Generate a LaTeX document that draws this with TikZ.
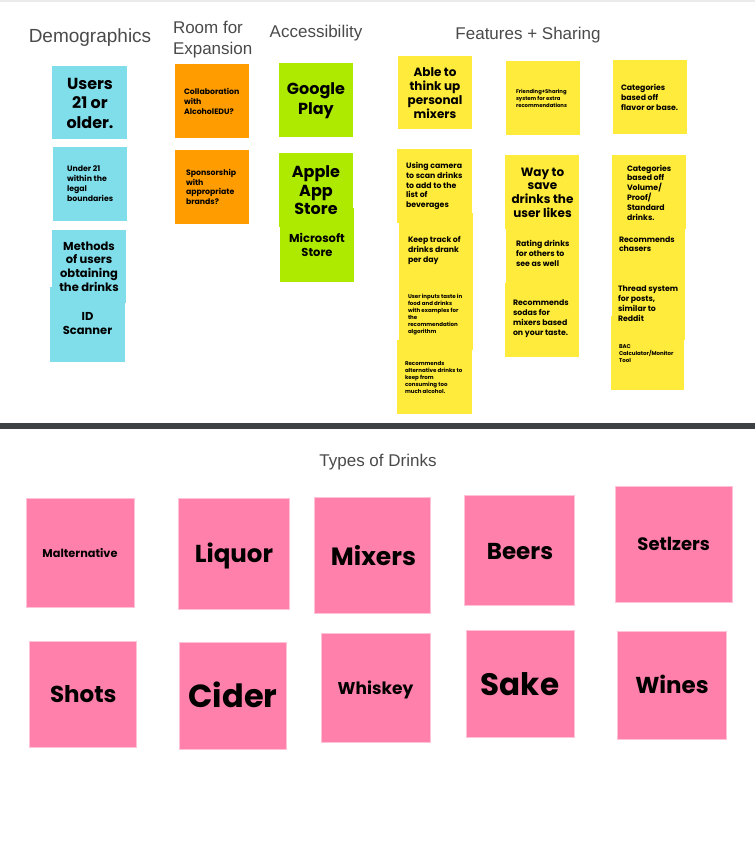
\documentclass[tikz,border=0pt]{standalone}
\usepackage{fontspec}
\setmainfont{Liberation Sans}
\newfontfamily\notefont{Poppins}
\newfontfamily\titlefont{Liberation Sans}
\definecolor{blueN}{HTML}{80DEEA}
\definecolor{orangeN}{HTML}{FF9D00}
\definecolor{greenN}{HTML}{AEEA00}
\definecolor{yellowN}{HTML}{FFEB3B}
\definecolor{pinkN}{HTML}{FF80AB}
\definecolor{pinkEdge}{HTML}{FFC2D6}
\definecolor{titleGray}{HTML}{4A4A4A}
\definecolor{barGray}{HTML}{3E4144}
\tikzset{
  sticky/.style={rectangle, inner sep=0pt, outer sep=0pt, anchor=north west, draw=none},
  bluen/.style={sticky, fill=blueN},
  orangen/.style={sticky, fill=orangeN},
  greenn/.style={sticky, fill=greenN},
  yellown/.style={sticky, fill=yellowN},
  pinkn/.style={sticky, fill=pinkN, draw=pinkEdge, line width=0.6pt},
  nt/.style 2 args={inner sep=0pt, outer sep=0pt, text=black, font=\notefont\bfseries\fontsize{#1}{#2}\selectfont},
  ttl/.style={inner sep=0pt, outer sep=0pt, text=titleGray, font=\titlefont\fontsize{17}{21}\selectfont},
  pk/.style={inner sep=0pt, outer sep=0pt, text=black, anchor=base, font=\notefont\bfseries\fontsize{#1}{#1}\selectfont},
}
\begin{document}
\begin{tikzpicture}[x=1pt,y=-1pt]
\useasboundingbox (0,0) rectangle (755,852);
\fill[white] (0,0) rectangle (755,852);
\fill[black!8] (0,0) rectangle (755,2);
% separator bar
\node[sticky, fill=barGray, minimum width=755pt, minimum height=6pt] (bar) at (0,423) {};

% ---------- titles ----------
\node[ttl, font=\titlefont\fontsize{19}{21}\selectfont] (tDemo) at (90,38) {Demographics};
\node[ttl, anchor=west, align=left] (tRoom) at (173,39.5) {Room for\\Expansion};
\node[ttl] (tAcc) at (316,33) {Accessibility};
\node[ttl] (tFeat) at (528,35) {Features + Sharing};
\node[ttl] (tTypes) at (378,462) {Types of Drinks};

% ---------- boxes: demographics ----------
\node[bluen, minimum width=75pt, minimum height=73pt] (bUsers) at (52,66) {};
\node[bluen, minimum width=74pt, minimum height=74pt] (bUnder) at (53,147) {};
\node[bluen, minimum width=75pt, minimum height=75pt] (bID) at (50,287) {};
\node[bluen, minimum width=74pt, minimum height=73pt] (bMeth) at (52,230) {};
% room for expansion
\node[orangen, minimum width=74pt, minimum height=74pt] (bCollab) at (175,64) {};
\node[orangen, minimum width=74pt, minimum height=74pt] (bSpons) at (175,150) {};
% accessibility
\node[greenn, minimum width=74pt, minimum height=74pt] (bGoogle) at (279,63) {};
\node[greenn, minimum width=74pt, minimum height=74pt] (bMS) at (280,208) {};
\node[greenn, minimum width=74pt, minimum height=74pt] (bApple) at (279,153) {};
% features: left column
\node[yellown, minimum width=74pt, minimum height=73pt] (bAble) at (398,56) {};
\node[yellown, minimum width=75pt, minimum height=74pt] (bCam) at (397,149) {};
\node[yellown, minimum width=74pt, minimum height=74pt] (bKeep) at (399,213) {};
\node[yellown, minimum width=74pt, minimum height=70pt] (bUserIn) at (399,280) {};
\node[yellown, minimum width=75pt, minimum height=74pt] (bAlt) at (397,340) {};
% features: middle column
\node[yellown, minimum width=74pt, minimum height=74pt] (bFriend) at (506,61) {};
\node[yellown, minimum width=74pt, minimum height=74pt] (bSave) at (505,155) {};
\node[yellown, minimum width=73pt, minimum height=74pt] (bRate) at (506,216) {};
\node[yellown, minimum width=74pt, minimum height=74pt] (bSodas) at (505,283) {};
% features: right column
\node[yellown, minimum width=74pt, minimum height=74pt] (bCatF) at (613,60) {};
\node[yellown, minimum width=74pt, minimum height=74pt] (bCatV) at (612,155) {};
\node[yellown, minimum width=73pt, minimum height=70pt] (bChase) at (612,215) {};
\node[yellown, minimum width=73pt, minimum height=73pt] (bThread) at (612,267) {};
\node[yellown, minimum width=73pt, minimum height=74pt] (bBAC) at (611,316) {};
% types of drinks
\node[pinkn, minimum width=108pt, minimum height=109pt] (bMalt) at (26,498) {};
\node[pinkn, minimum width=111pt, minimum height=111pt] (bLiq) at (178,498) {};
\node[pinkn, minimum width=116pt, minimum height=116pt] (bMix) at (314,497) {};
\node[pinkn, minimum width=110pt, minimum height=110pt] (bBeer) at (464,495) {};
\node[pinkn, minimum width=117pt, minimum height=116pt] (bSelt) at (615,486) {};
\node[pinkn, minimum width=107pt, minimum height=106pt] (bShots) at (29,641) {};
\node[pinkn, minimum width=107pt, minimum height=107pt] (bCider) at (179,642) {};
\node[pinkn, minimum width=109pt, minimum height=109pt] (bWhis) at (321,633) {};
\node[pinkn, minimum width=108pt, minimum height=107pt] (bSake) at (466,630) {};
\node[pinkn, minimum width=109pt, minimum height=108pt] (bWine) at (617,631) {};

% ---------- texts ----------
\node[nt={16}{19.5}, align=center] (xUsers) at (90,103) {Users\\21 or\\older.};
\node[nt={7.8}{9.8}, align=left, anchor=west] (xUnder) at (67,183.5) {Under 21\\within the\\legal\\boundaries};
\node[nt={11.5}{13.7}, align=center] (xMeth) at (89,266.5) {Methods\\of users\\obtaining\\the drinks};
\node[nt={11.5}{14}, align=center] (xID) at (87.5,324) {ID\\Scanner};

\node[nt={7.8}{10}, align=left, anchor=west] (xCollab) at (184,101) {Collaboration\\with\\AlcoholEDU?};
\node[nt={7.8}{9.8}, align=left, anchor=west] (xSpons) at (186,187) {Sponsorship\\with\\appropriate\\brands?};

\node[nt={16}{19.5}, align=center] (xGoogle) at (316,100.5) {Google\\Play};
\node[nt={16}{18.5}, align=center] (xApple) at (316,190.5) {Apple\\App\\Store};
\node[nt={11.5}{14}, align=center] (xMS) at (317,245) {Microsoft\\Store};

\node[nt={12}{14}, align=center] (xAble) at (435,93) {Able to\\think up\\personal\\mixers};
\node[nt={7.8}{9.9}, align=left, anchor=west] (xCam) at (406,186) {Using camera\\to scan drinks\\to add to the\\list of\\beverages};
\node[nt={7.8}{9.8}, align=left, anchor=west] (xKeep) at (408,250.5) {Keep track of\\drinks drank\\per day};
\node[nt={5.5}{7}, align=left, anchor=west] (xUserIn) at (408,314.5) {User inputs taste in\\food and drinks\\with examples for\\the\\recommendation\\algorithm};
\node[nt={5.5}{7}, align=left, anchor=west] (xAlt) at (405,377) {Recommends\\alternative drinks to\\keep from\\consuming too\\much alcohol.};

\node[nt={5.3}{7}, align=left, anchor=west] (xFriend) at (516,98) {Friending+Sharing\\system for extra\\recommendations};
\node[nt={12}{13.7}, align=center] (xSave) at (542.5,192.5) {Way to\\save\\drinks the\\user likes};
\node[nt={7.8}{10}, align=left, anchor=west] (xRate) at (516,253) {Rating drinks\\for others to\\see as well};
\node[nt={7.8}{10}, align=left, anchor=west] (xSodas) at (513,319) {Recommends\\sodas for\\mixers based\\on your taste.};

\node[nt={7.8}{9.7}, align=left, anchor=west] (xCatF) at (621,97.5) {Categories\\based off\\flavor or base.};
\node[nt={7.8}{9.8}, align=left, anchor=west] (xCatV) at (627,192.5) {Categories\\based off\\Volume/\\Proof/\\Standard\\drinks.};
\node[nt={7.8}{9.6}, align=left, anchor=west] (xChase) at (619,244) {Recommends\\chasers};
\node[nt={7.8}{9.8}, align=left, anchor=west] (xThread) at (618,303.5) {Thread system\\for posts,\\similar to\\Reddit};
\node[nt={5.5}{7}, align=left, anchor=west] (xBAC) at (619,354) {BAC\\Calculator/Monitor\\Tool};

\node[pk={11.3}] (xMalt) at (80,557) {Malternative};
\node[pk={24.5}] (xLiq) at (234,562.5) {Liquor};
\node[pk={25}] (xMix) at (373.5,565) {Mixers};
\node[pk={23}] (xBeer) at (520,559) {Beers};
\node[pk={18}] (xSelt) at (673.7,550.7) {Setlzers};
\node[pk={23}] (xShots) at (83.3,702.7) {Shots};
\node[pk={32}] (xCider) at (233,707.7) {Cider};
\node[pk={17}] (xWhis) at (375.5,694.3) {Whiskey};
\node[pk={31}] (xSake) at (520,695.3) {Sake};
\node[pk={23}] (xWine) at (672,693.3) {Wines};
\end{tikzpicture}
\end{document}
